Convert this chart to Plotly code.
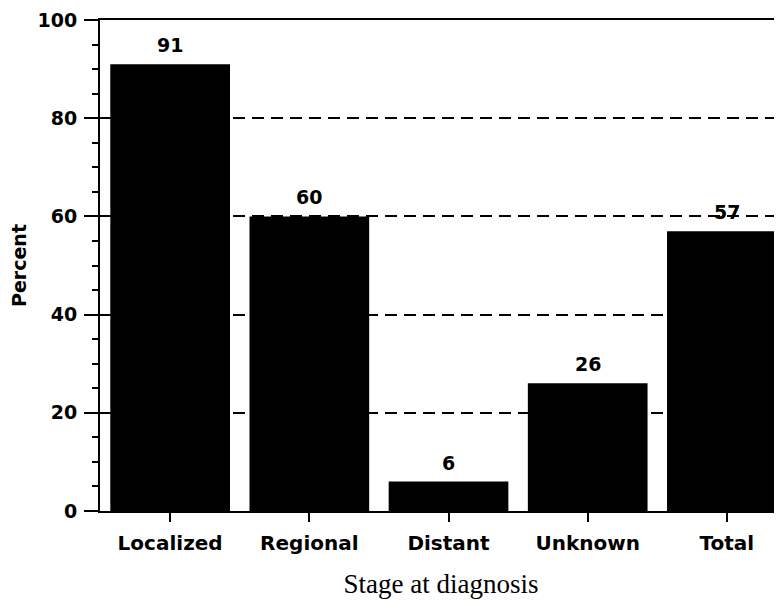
import plotly.graph_objects as go

stages = ['Localized', 'Regional', 'Distant', 'Unknown', 'Total']
percent = [91, 60, 6, 26, 57]
y_ticks = [0, 20, 40, 60, 80, 100]

bold = 'DejaVu Sans'

fig = go.Figure()
fig.add_trace(go.Bar(
    x=stages, y=percent,
    marker=dict(color='black', line=dict(width=0)),
    width=0.86,
    cliponaxis=False,
))

# value labels above bars
for s, v in zip(stages, percent):
    fig.add_annotation(x=s, y=v, text=str(v), showarrow=False,
                       yanchor='bottom', yshift=6,
                       font=dict(family=bold, size=19, color='black', weight='bold'))

# page body adds 8px offset, so the figure is 8px smaller than the window
fig.update_layout(
    width=774, height=607,
    margin=dict(l=92, r=0, t=12, b=104),
    plot_bgcolor='white', paper_bgcolor='white',
    showlegend=False,
    xaxis=dict(
        range=[-0.504, 4.396],
        automargin=False,
        showline=True, linecolor='black', linewidth=2, mirror=True,
        ticks='outside', ticklen=9, tickwidth=2, tickcolor='black',
        tickfont=dict(family=bold, size=20, color='black', weight='bold'),
        ticklabelstandoff=4,
        title=dict(text='Stage at diagnosis', standoff=20,
                   font=dict(family='Liberation Serif', size=27, color='black')),
        showgrid=False,
    ),
    yaxis=dict(
        range=[0, 100],
        automargin=False,
        tickvals=y_ticks,
        showline=True, linecolor='black', linewidth=2,
        ticks='outside', ticklen=14, tickwidth=2, tickcolor='black',
        tickfont=dict(family=bold, size=19, color='black', weight='bold'),
        ticklabelstandoff=3,
        minor=dict(dtick=5, ticks='outside', ticklen=6, tickwidth=2, tickcolor='black', showgrid=False),
        showgrid=True, gridcolor='black', gridwidth=1.5, griddash='12px,7px',
        zeroline=False,
        title=dict(text='Percent', standoff=20,
                   font=dict(family=bold, size=19, color='black', weight='bold')),
    ),
)

fig.write_html('out.html')
